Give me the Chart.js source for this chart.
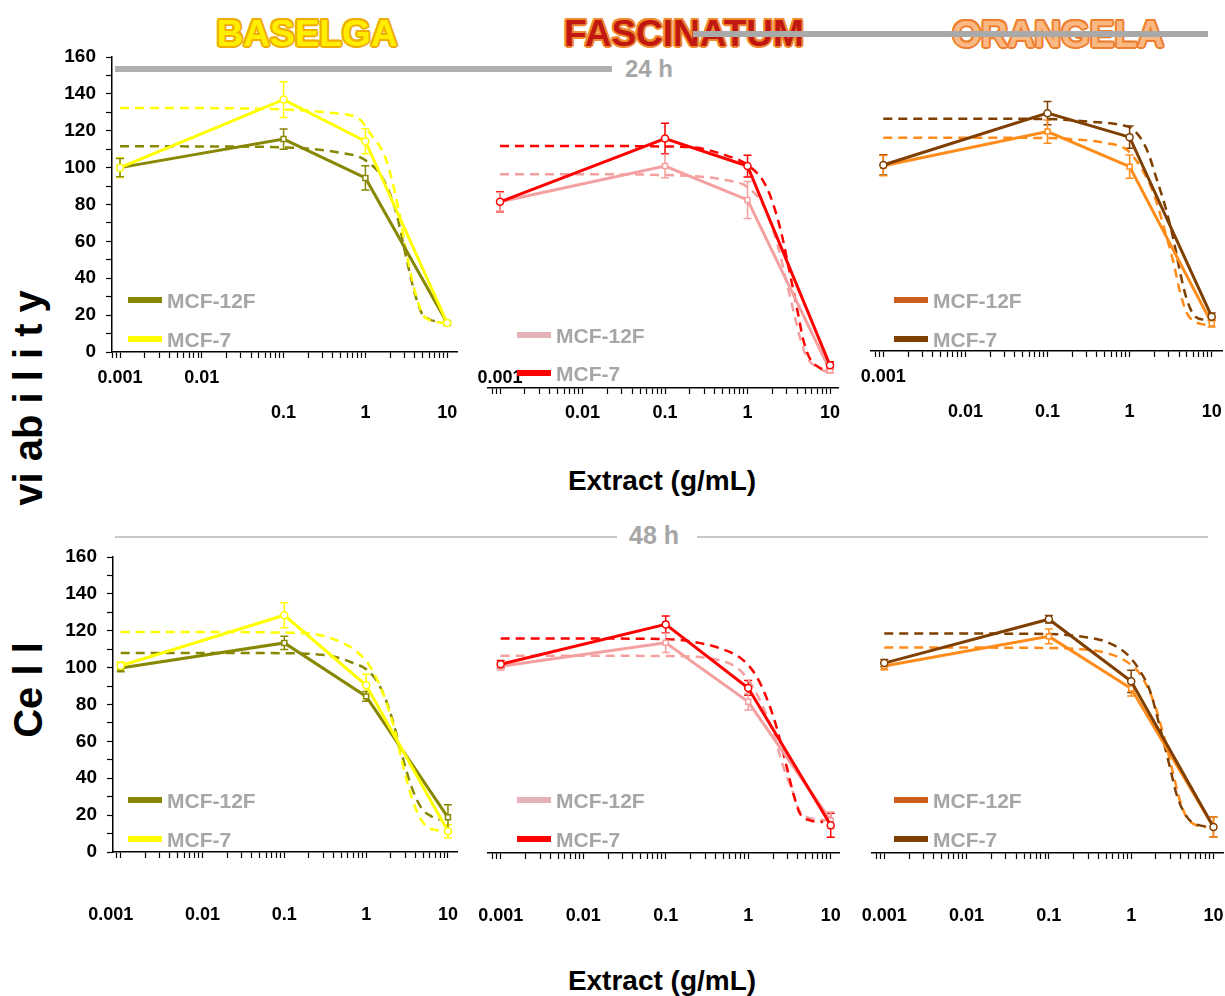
<!DOCTYPE html>
<html>
<head>
<meta charset="utf-8">
<script src="https://cdn.jsdelivr.net/npm/chart.js@4.4.1/dist/chart.umd.min.js"></script>
<style>
body{margin:0;width:1225px;height:996px;overflow:hidden;background:#fff;position:relative;font-family:"Liberation Sans",Arial,sans-serif}
canvas{position:absolute}
.t{position:absolute;white-space:nowrap;font-weight:bold;line-height:1;transform:translate(-50%,-50%)}
.ttl{font-size:37px}
.bar{position:absolute}
.leg{position:absolute;white-space:nowrap;font-weight:bold;font-size:21px;color:#a6a6a6;line-height:1}
.leg span{display:inline-block;width:34px;height:6px;vertical-align:middle;margin-right:5px;position:relative;top:-2px}
.rot{position:absolute;white-space:nowrap;font-weight:bold;font-size:40px;line-height:40px;color:#000;transform:translate(-50%,-50%) rotate(-90deg)}
</style>
</head>
<body>

<div class="t ttl" style="left:307px;top:33px;color:#ffee00;text-shadow:2px 0 #f0ac00,-2px 0 #f0ac00,0 2px #f0ac00,0 -2px #f0ac00,1.5px 1.5px #f0ac00,-1.5px -1.5px #f0ac00,1.5px -1.5px #f0ac00,-1.5px 1.5px #f0ac00">BASELGA</div>
<div class="t ttl" style="left:684px;top:33px;color:#c01810;text-shadow:2px 0 #f08a30,-2px 0 #f08a30,0 2px #f08a30,0 -2px #f08a30,1.5px 1.5px #f08a30,-1.5px -1.5px #f08a30,1.5px -1.5px #f08a30,-1.5px 1.5px #f08a30">FASCINATUM</div>
<div class="t ttl" style="left:1058px;top:34px;color:#f9b884;text-shadow:2px 0 #ee7f2e,-2px 0 #ee7f2e,0 2px #ee7f2e,0 -2px #ee7f2e,1.5px 1.5px #ee7f2e,-1.5px -1.5px #ee7f2e,1.5px -1.5px #ee7f2e,-1.5px 1.5px #ee7f2e">ORANGELA</div>

<div class="bar" style="left:115px;top:66px;width:497px;height:6px;background:#b0b0b0"></div>
<div class="t" style="left:649px;top:69px;font-size:24px;color:#a6a6a6">24 h</div>
<div class="bar" style="left:693px;top:31px;width:515px;height:6px;background:#a9a9a9;z-index:2"></div>

<div class="bar" style="left:115px;top:536px;width:502px;height:2px;background:#c8c8c8"></div>
<div class="bar" style="left:697px;top:536px;width:511px;height:2px;background:#c8c8c8"></div>
<div class="t" style="left:654px;top:535px;font-size:25px;color:#a6a6a6">48 h</div>

<div class="t" style="left:662px;top:481px;font-size:28px;color:#000">Extract (g/mL)</div>
<div class="t" style="left:662px;top:981px;font-size:28px;color:#000">Extract (g/mL)</div>

<div class="rot" style="left:28px;top:398px">vi ab i l i t y</div>
<div class="rot" style="left:28px;top:690px">Ce l l</div>

<script>
// dose points of the measured data
const doses = [0.001, 0.1, 1, 10];
const decadeLabels = {0.001: '0.001', 0.01: '0.01', 0.1: '0.1', 1: '1', 10: '10'};

// ---- 24 h ----
// BASELGA
const bas24_12f = [100, 115.5, 94.4, 15.7];
const bas24_12f_sd = [5, 5.5, 6.6, 1];
const bas24_7 = [100, 136.9, 114.3, 15.7];
const bas24_7_sd = [5.4, 9.7, 6.8, 1];
const bas24_fit12f_x = [0.001, 0.01, 0.1, 0.5, 1, 1.66, 2.4, 3.2, 4, 4.9, 6.2, 7.5];
const bas24_fit12f_y = [111.6, 111.5, 111, 108, 104, 93.5, 75, 50, 32, 21, 17.5, 16.5];
const bas24_fit7_x = [0.001, 0.01, 0.1, 0.4, 0.86, 1.1, 1.8, 2.5, 3.3, 4.2, 5.1, 6.8, 9];
const bas24_fit7_y = [132.4, 132.3, 131.5, 129.6, 126, 119.6, 104, 79, 50, 30, 20, 16.7, 15.7];
// FASCINATUM
const fas24_12f = [101, 120.4, 102, 9.6];
const fas24_12f_sd = [5, 6.3, 10, 1.5];
const fas24_7 = [101, 135.3, 120.4, 12.3];
const fas24_7_sd = [5.4, 8.3, 5.9, 2];
const fas24_fit12f_x = [0.001, 0.01, 0.1, 0.56, 1.0, 1.6, 2.3, 3.0, 3.6, 4.3, 5.2, 6.9, 9.1];
const fas24_fit12f_y = [115.9, 115.9, 115.5, 112.7, 109, 98, 78, 56.6, 42, 27.7, 16.8, 11.4, 8.7];
const fas24_fit7_x = [0.001, 0.01, 0.1, 0.22, 0.56, 1.07, 1.7, 2.48, 3.27, 3.95, 4.75, 5.7, 7.2, 9.1];
const fas24_fit7_y = [131.3, 131.3, 131, 130.5, 126, 120, 109, 87, 62, 44, 26, 16, 11.4, 9.6];
// ORANGELA
const ora24_12f = [100.5, 119, 100, 15];
const ora24_12f_sd = [5.5, 6.3, 6.3, 2];
const ora24_7 = [100.9, 129, 116, 18.6];
const ora24_7_sd = [5.5, 6.3, 6, 2];
const ora24_fit12f_x = [0.001, 0.01, 0.1, 0.21, 0.53, 0.93, 1.35, 1.96, 2.6, 3.44, 4.15, 5.0, 6.6, 8.7];
const ora24_fit12f_y = [115.7, 115.7, 115.5, 114.8, 112.7, 109, 100, 85.5, 67.5, 47.6, 31.3, 20.4, 15.4, 14.1];
const ora24_fit7_x = [0.001, 0.01, 0.1, 0.33, 0.77, 1.12, 1.63, 2.15, 2.72, 3.44, 4.15, 5.0, 6.3, 8.4];
const ora24_fit7_y = [126, 126, 125.8, 124.4, 122.6, 120, 109, 92.8, 78.3, 60, 42, 27.7, 18.6, 16.8];

// ---- 48 h ----
const bas48_12f = [99.8, 113.4, 84.4, 18.8];
const bas48_12f_sd = [2, 3.6, 2.7, 6.8];
const bas48_7 = [101, 128.4, 90.4, 11.2];
const bas48_7_sd = [2, 6.8, 6, 3.6];
const bas48_fit12f_x = [0.001, 0.01, 0.1, 0.4, 0.69, 1.01, 1.47, 2.04, 2.7, 3.57, 4.73, 6.27, 7.9];
const bas48_fit12f_y = [108, 108, 107.8, 106, 102.5, 99, 90, 73.6, 53.7, 35.6, 23.9, 19.3, 17.5];
const bas48_fit7_x = [0.001, 0.01, 0.1, 0.25, 0.48, 0.76, 1.11, 1.61, 2.24, 2.96, 3.93, 5.2, 6.9, 8.7];
const bas48_fit7_y = [119.3, 119.3, 119, 118, 114, 108.9, 100.7, 86, 66, 43, 24.8, 14.8, 12, 11.6];

const fas48_12f = [101.3, 114, 82, 17.7];
const fas48_12f_sd = [2, 5.2, 4.5, 4.5];
const fas48_7 = [102.4, 124, 89.5, 15];
const fas48_7_sd = [2, 4.5, 4, 6.5];
const fas48_fit12f_x = [0.001, 0.01, 0.1, 0.456, 0.874, 1.39, 2.02, 2.67, 3.53, 4.25, 5.12, 7.43, 9.8];
const fas48_fit12f_y = [107, 107, 106.8, 104.5, 97.3, 82.8, 64.7, 46.7, 32.2, 22.2, 19.5, 18.1, 17.7];
const fas48_fit7_x = [0.001, 0.01, 0.1, 0.216, 0.456, 0.874, 1.27, 1.84, 2.32, 2.93, 3.53, 4.25, 5.6, 8.1];
const fas48_fit7_y = [116.3, 116.3, 116, 114.5, 111, 104.5, 95.5, 79.2, 64.7, 46.7, 32, 21.3, 17.7, 16.8];

const ora48_12f = [101.4, 117.5, 89.2, 14.1];
const ora48_12f_sd = [2, 4, 4, 5.4];
const ora48_7 = [103, 126.8, 93.1, 14.1];
const ora48_7_sd = [2, 2, 6, 5.4];
const ora48_fit12f_x = [0.001, 0.01, 0.1, 0.2, 0.5, 0.96, 1.27, 1.85, 2.45, 3.24, 3.9, 4.7, 6.22, 8.2];
const ora48_fit12f_y = [111.4, 111.4, 111.2, 110.8, 108.5, 102.7, 97.3, 82.8, 64.7, 43, 28.6, 19.5, 15, 14.1];
const ora48_fit7_x = [0.001, 0.01, 0.1, 0.238, 0.5, 0.88, 1.27, 1.69, 2.23, 2.95, 3.55, 4.27, 5.4, 6.8, 9.0];
const ora48_fit7_y = [119, 119, 118.8, 117.5, 114.5, 108, 99, 88, 68.4, 46.7, 32, 23, 16.8, 15, 14.1];

const colBas = {c12f: '#878700', c7: '#ffff00', l12f: '#878700', l7: '#ffff00'};
const colFas = {c12f: '#f5a0a0', c7: '#ff0000', l12f: '#e3b3b8', l7: '#ff0000'};
const colOra = {c12f: '#ff8c1a', c7: '#7f3f00', l12f: '#cc5f1e', l7: '#7f3f00'};

function pts(xs, ys) { return xs.map((x, i) => ({x: x, y: ys[i]})); }

// error bars drawn under the markers
const errorBars = {
    id: 'errorBars',
    beforeDatasetsDraw(chart) {
        const ctx = chart.ctx, ys = chart.scales.y;
        chart.data.datasets.forEach((ds, i) => {
            if (!ds.errs) return;
            const meta = chart.getDatasetMeta(i);
            ctx.save();
            ctx.strokeStyle = ds.borderColor;
            ctx.lineWidth = 1.5;
            meta.data.forEach((p, j) => {
                const v = ds.data[j].y, e = ds.errs[j];
                const y1 = ys.getPixelForValue(v - e), y2 = ys.getPixelForValue(v + e);
                ctx.beginPath();
                ctx.moveTo(p.x, y1); ctx.lineTo(p.x, y2);
                ctx.moveTo(p.x - 4, y1); ctx.lineTo(p.x + 4, y1);
                ctx.moveTo(p.x - 4, y2); ctx.lineTo(p.x + 4, y2);
                ctx.stroke();
            });
            ctx.restore();
        });
    }
};

const panels = [
    {L: 112, R: 457, B: 352, showY: true, min: 0.000798, max: 13.18, row1: [0.001, 0.01], pad: 2.5, col: colBas,
     d12: bas24_12f, s12: bas24_12f_sd, d7: bas24_7, s7: bas24_7_sd,
     f12: pts(bas24_fit12f_x, bas24_fit12f_y), f7: pts(bas24_fit7_x, bas24_fit7_y),
     leg: {x: 128, y1: 301, y2: 340}},
    {L: 488, R: 838, B: 388, showY: false, min: 0.000715, max: 12.5, row1: [0.001], pad: -33.5, col: colFas,
     d12: fas24_12f, s12: fas24_12f_sd, d7: fas24_7, s7: fas24_7_sd,
     f12: pts(fas24_fit12f_x, fas24_fit12f_y), f7: pts(fas24_fit7_x, fas24_fit7_y),
     leg: {x: 517, y1: 336, y2: 374}},
    {L: 871, R: 1222, B: 351, showY: false, min: 0.000708, max: 13.35, row1: [0.001], pad: 2.5, col: colOra,
     d12: ora24_12f, s12: ora24_12f_sd, d7: ora24_7, s7: ora24_7_sd,
     f12: pts(ora24_fit12f_x, ora24_fit12f_y), f7: pts(ora24_fit7_x, ora24_fit7_y),
     leg: {x: 894, y1: 301, y2: 340}},
    {L: 113, R: 457, B: 852, showY: true, min: 0.000805, max: 12.9, row1: [], pad: 5, col: colBas, wide001: true,
     d12: bas48_12f, s12: bas48_12f_sd, d7: bas48_7, s7: bas48_7_sd,
     f12: pts(bas48_fit12f_x, bas48_fit12f_y), f7: pts(bas48_fit7_x, bas48_fit7_y),
     leg: {x: 128, y1: 801, y2: 840}},
    {L: 488, R: 839, B: 853, showY: false, min: 0.000702, max: 12.6, row1: [], pad: 5, col: colFas,
     d12: fas48_12f, s12: fas48_12f_sd, d7: fas48_7, s7: fas48_7_sd,
     f12: pts(fas48_fit12f_x, fas48_fit12f_y), f7: pts(fas48_fit7_x, fas48_fit7_y),
     leg: {x: 517, y1: 801, y2: 840}},
    {L: 872, R: 1223, B: 853, showY: false, min: 0.00071, max: 13.05, row1: [], pad: 5, col: colOra,
     d12: ora48_12f, s12: ora48_12f_sd, d7: ora48_7, s7: ora48_7_sd,
     f12: pts(ora48_fit12f_x, ora48_fit12f_y), f7: pts(ora48_fit7_x, ora48_fit7_y),
     leg: {x: 894, y1: 801, y2: 840}}
];

const PADL = 110, PADR = 30, PADT = 28, XH = 95, YW = 50, H160 = 295;

function isDecade(v) {
    const l = Math.log10(v);
    return Math.abs(l - Math.round(l)) < 1e-6;
}

function addLegend(p) {
    [['MCF-12F', p.col.l12f, p.leg.y1], ['MCF-7', p.col.l7, p.leg.y2]].forEach(([txt, c, y]) => {
        const d = document.createElement('div');
        d.className = 'leg';
        d.style.left = p.leg.x + 'px';
        d.style.top = (y - 11) + 'px';
        d.innerHTML = '<span style="background:' + c + '"></span>' + txt;
        document.body.appendChild(d);
    });
}

panels.forEach(p => {
    const T = p.B - H160;
    const cv = document.createElement('canvas');
    const w = p.R - p.L + PADL + PADR, h = p.B - T + PADT + XH;
    cv.width = w; cv.height = h;
    cv.style.left = (p.L - PADL) + 'px';
    cv.style.top = (T - PADT) + 'px';
    cv.style.width = w + 'px'; cv.style.height = h + 'px';
    document.body.appendChild(cv);

    // x tick values: 1..9 in every decade inside the range
    const xTicks = [];
    [0.0001, 0.001, 0.01, 0.1, 1, 10].forEach(dec => {
        for (let k = 1; k < 10; k++) {
            const v = +(dec * k).toPrecision(3);
            if (v >= p.min * 0.999 && v <= p.max * 1.001) xTicks.push(v);
        }
    });

    new Chart(cv, {
        type: 'line',
        data: {
            datasets: [
                {label: 'MCF-7', data: pts(doses, p.d7), errs: p.s7, borderColor: p.col.c7, borderWidth: 3,
                 pointStyle: 'circle', pointRadius: 3.5, pointBackgroundColor: '#fff', pointBorderColor: p.col.c7,
                 pointBorderWidth: 1.5, tension: 0},
                {label: 'MCF-12F', data: pts(doses, p.d12), errs: p.s12, borderColor: p.col.c12f, borderWidth: 3,
                 pointStyle: 'rect', pointRadius: 3.5, pointBackgroundColor: '#fff', pointBorderColor: p.col.c12f,
                 pointBorderWidth: 1.5, tension: 0},
                {label: 'MCF-7 fit', data: p.f7, borderColor: p.col.c7, borderWidth: 2.5, borderDash: [9, 6],
                 pointRadius: 0, cubicInterpolationMode: 'monotone'},
                {label: 'MCF-12F fit', data: p.f12, borderColor: p.col.c12f, borderWidth: 2.5, borderDash: [9, 6],
                 pointRadius: 0, cubicInterpolationMode: 'monotone'}
            ]
        },
        options: {
            responsive: false,
            animation: false,
            events: [],
            layout: {padding: {left: p.showY ? PADL - YW : PADL, right: PADR, top: PADT, bottom: 0}},
            plugins: {legend: {display: false}, tooltip: {enabled: false}},
            scales: {
                x: {
                    type: 'logarithmic',
                    min: p.min,
                    max: p.max,
                    afterBuildTicks: axis => { axis.ticks = xTicks.map(v => ({value: v})); },
                    afterFit: axis => {
                        axis.height = XH;
                        // let a label sit above the axis line (middle 24 h panel)
                        axis._computeLabelArea = () => undefined;
                    },
                    grid: {drawOnChartArea: false, drawTicks: true, tickLength: 6, tickColor: '#000', tickWidth: 1.2},
                    border: {display: true, color: '#000', width: 1.5},
                    ticks: {
                        autoSkip: false, maxRotation: 0, minRotation: 0, padding: p.pad, color: '#000',
                        font: {size: 18, weight: 'bold', lineHeight: '35px', family: '"Liberation Sans", Arial'},
                        callback: function(value) {
                            if (!isDecade(value)) return '';
                            let txt = decadeLabels[+value.toPrecision(3)];
                            if (value === 0.001 && p.wide001) txt = txt + '    ';
                            return p.row1.includes(+value.toPrecision(3)) ? [txt] : ['', txt];
                        }
                    }
                },
                y: {
                    display: p.showY,
                    min: 0,
                    max: 160,
                    afterBuildTicks: axis => {
                        const t = [];
                        for (let v = 0; v <= 160; v += 10) t.push({value: v});
                        axis.ticks = t;
                    },
                    afterFit: axis => { if (p.showY) axis.width = YW; },
                    grid: {drawOnChartArea: false, drawTicks: true, tickLength: 6, tickColor: '#000', tickWidth: 1.2},
                    border: {display: true, color: '#000', width: 1.5},
                    ticks: {
                        padding: 10, color: '#000', autoSkip: false,
                        font: {size: 19, weight: 'bold', family: '"Liberation Sans", Arial'},
                        callback: v => (v % 20 === 0 ? String(v) : '')
                    }
                }
            }
        },
        plugins: [errorBars]
    });

    addLegend(p);
});
</script>
</body>
</html>
